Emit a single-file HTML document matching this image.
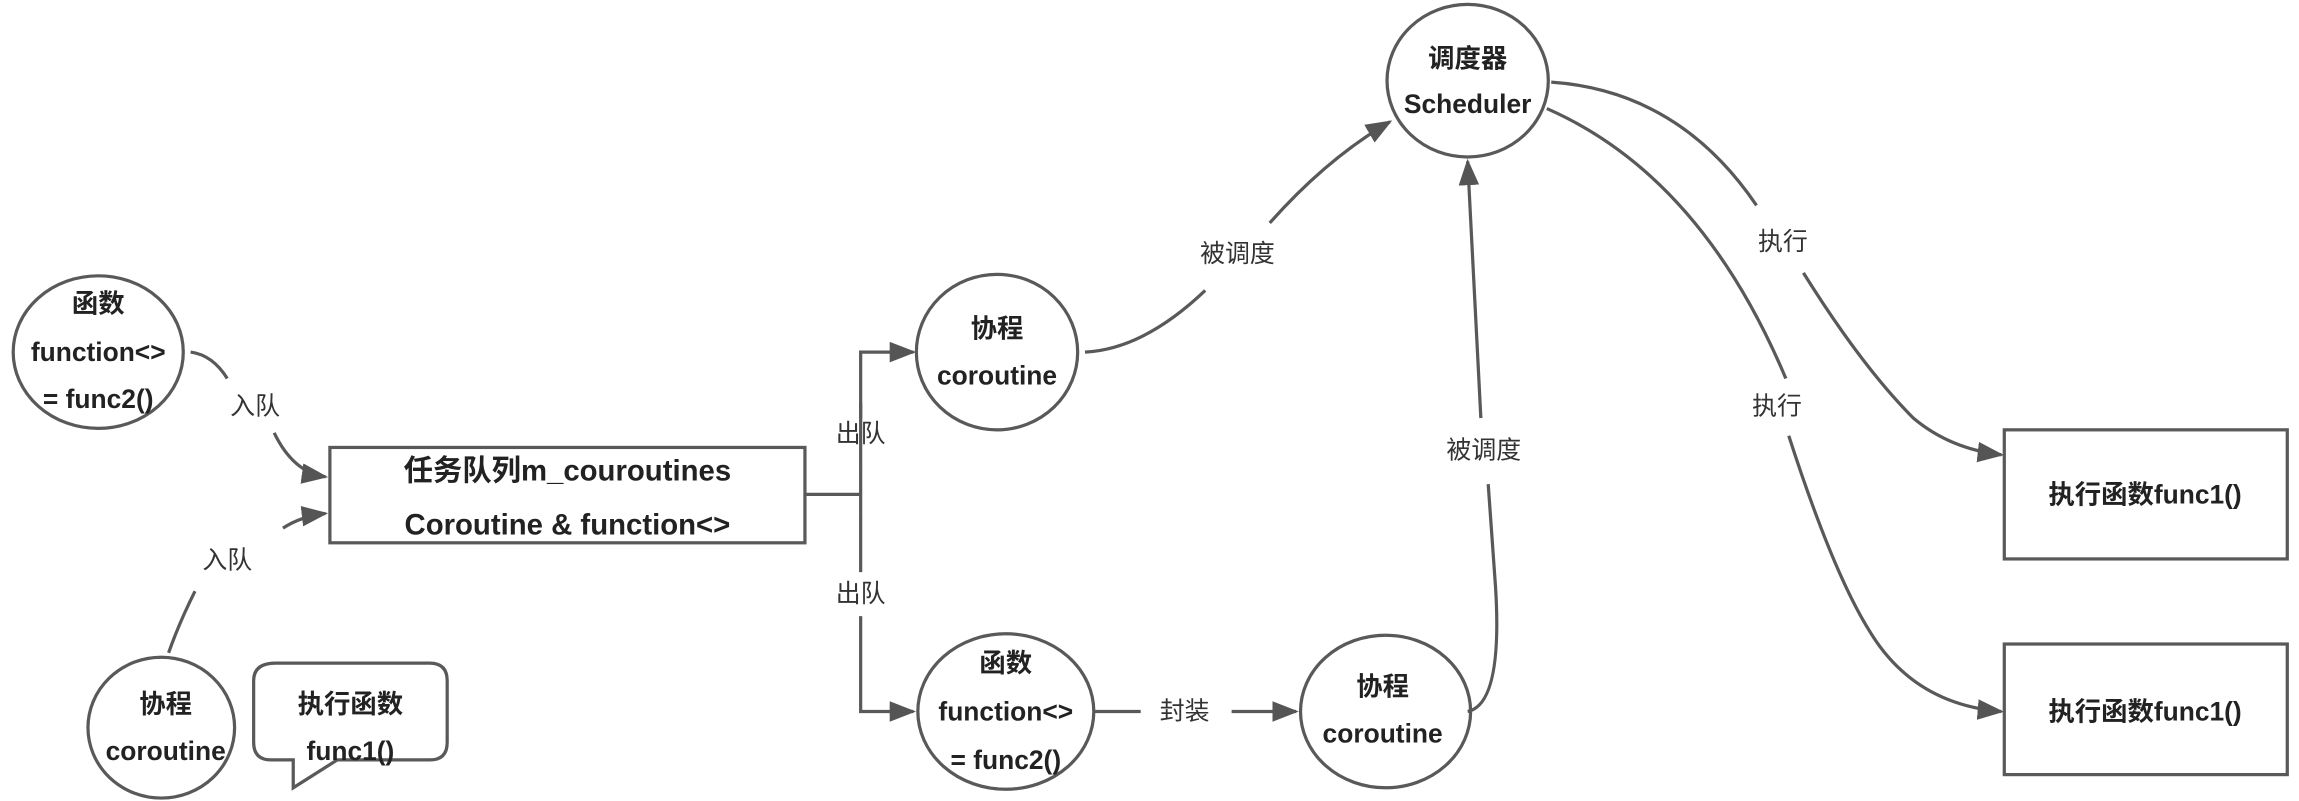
<!DOCTYPE html>
<html><head><meta charset="utf-8"><style>
html,body{margin:0;padding:0;background:#fff;}
svg{display:block;}
text{font-family:"Liberation Sans","Noto Sans CJK SC",sans-serif;fill:#222;}
.b{font-weight:bold;font-size:18px;}
.l{font-size:17px;fill:#333;}
</style></head><body>
<svg width="2299" height="801" viewBox="0 0 1568 546" preserveAspectRatio="none" xmlns="http://www.w3.org/2000/svg">
<defs><marker id="a" viewBox="0 0 10 10" refX="9" refY="5" markerWidth="7" markerHeight="7" markerUnits="userSpaceOnUse" orient="auto"><path d="M0,0L10,5L0,10z" fill="#555"/></marker>
<marker id="m" viewBox="0 0 10 10" refX="9" refY="5" markerWidth="18" markerHeight="14" markerUnits="userSpaceOnUse" orient="auto" preserveAspectRatio="none"><path d="M0,0L10,5L0,10z" fill="#555"/></marker></defs>
<g fill="none" stroke="#595959" stroke-width="2.2">
<ellipse cx="67" cy="240" rx="58" ry="52"/>
<ellipse cx="110" cy="496" rx="50" ry="48"/>
<path d="M188,452 H293 Q305,452 305,464 V506 Q305,518 293,518 H230 L200,537 V518 H185 Q173,518 173,506 V464 Q173,452 188,452Z"/>
<rect x="225" y="305" width="324" height="65"/>
<ellipse cx="680" cy="240" rx="55" ry="53"/>
<ellipse cx="686" cy="485" rx="60" ry="53"/>
<ellipse cx="945" cy="485" rx="58" ry="52"/>
<ellipse cx="1001" cy="55" rx="55" ry="52"/>
<rect x="1367" y="293" width="193" height="88"/>
<rect x="1367" y="439" width="193" height="89"/>
<path d="M130,240 Q145,242 155,258"/>
<path d="M187,295 Q200,322 222,325" marker-end="url(#m)"/>
<path d="M115,445 Q122,425 133,403"/>
<path d="M193,360 Q205,352 222,350" marker-end="url(#m)"/>
<path d="M549,337 H587"/>
<path d="M587,320 V240 H623" marker-end="url(#m)"/>
<path d="M587,285 V275"/>
<path d="M587,320 V350"/>
<path d="M587,390 V350"/>
<path d="M587,420 V485 H623" marker-end="url(#m)"/>
<path d="M746,485 H778"/>
<path d="M840,485 H884" marker-end="url(#m)"/>
<path d="M1001,485 Q1025,480 1020,400 L1015,330"/>
<path d="M1010,285 L1001,110" marker-end="url(#m)"/>
<path d="M740,240 Q780,238 822,198"/>
<path d="M866,152 Q905,108 948,83" marker-end="url(#m)"/>
<path d="M1058,56 Q1145,62 1198,140"/>
<path d="M1230,186 Q1270,250 1305,285 Q1330,306 1365,310" marker-end="url(#m)"/>
<path d="M1055,74 Q1160,120 1218,258"/>
<path d="M1220,297 Q1250,390 1275,430 Q1305,480 1365,485" marker-end="url(#m)"/>
</g>
<g text-anchor="middle" dominant-baseline="central">
<text class="b" x="67" y="207">函数</text>
<text class="b" x="67" y="240">function&lt;&gt;</text>
<text class="b" x="67" y="272">= func2()</text>
<text class="b" x="113" y="480">协程</text>
<text class="b" x="113" y="512">coroutine</text>
<text class="b" x="239" y="480">执行函数</text>
<text class="b" x="239" y="512">func1()</text>
<text class="b" x="387" y="321" style="font-size:20px">任务队列m_couroutines</text>
<text class="b" x="387" y="358" style="font-size:20px">Coroutine &amp; function&lt;&gt;</text>
<text class="b" x="680" y="224">协程</text>
<text class="b" x="680" y="256">coroutine</text>
<text class="b" x="686" y="452">函数</text>
<text class="b" x="686" y="485">function&lt;&gt;</text>
<text class="b" x="686" y="518">= func2()</text>
<text class="b" x="943" y="468">协程</text>
<text class="b" x="943" y="500">coroutine</text>
<text class="b" x="1001" y="40">调度器</text>
<text class="b" x="1001" y="71">Scheduler</text>
<text class="b" x="1463" y="337">执行函数func1()</text>
<text class="b" x="1463" y="485">执行函数func1()</text>
<text class="l" x="174" y="277">入队</text>
<text class="l" x="155" y="382">入队</text>
<text class="l" x="587" y="296">出队</text>
<text class="l" x="587" y="405">出队</text>
<text class="l" x="808" y="485">封装</text>
<text class="l" x="844" y="173">被调度</text>
<text class="l" x="1012" y="307">被调度</text>
<text class="l" x="1216" y="165">执行</text>
<text class="l" x="1212" y="277">执行</text>
</g>
</svg>
</body></html>
